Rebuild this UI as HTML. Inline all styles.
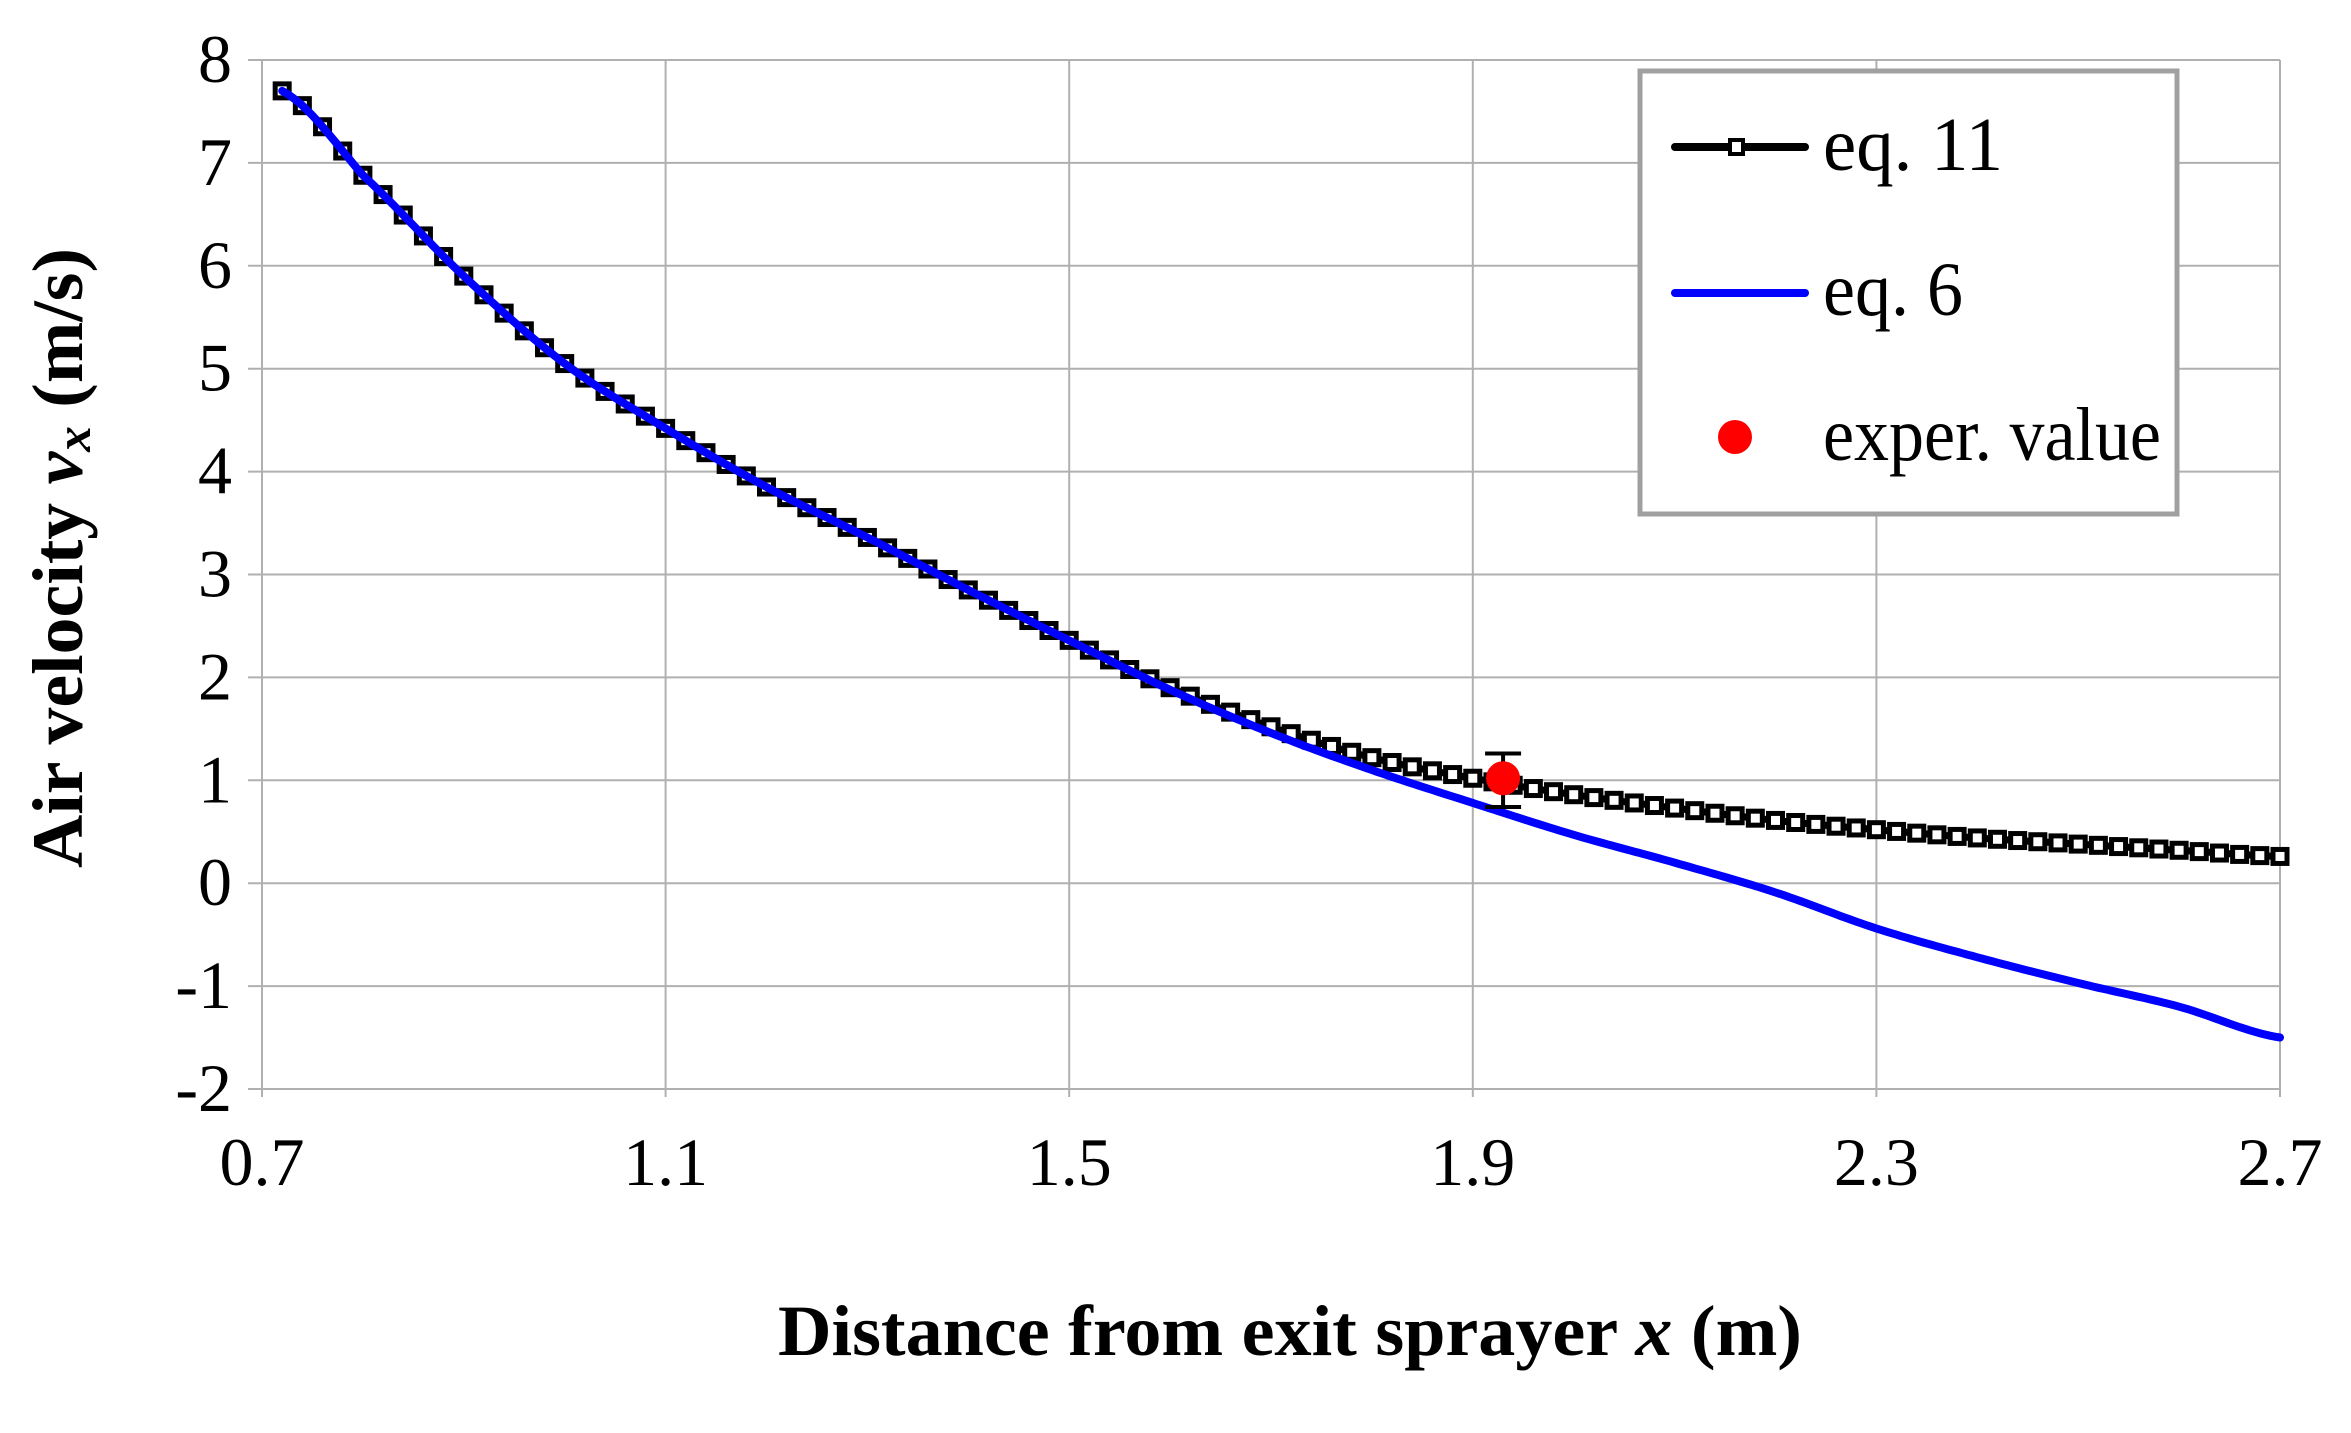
<!DOCTYPE html>
<html><head><meta charset="utf-8"><style>html,body{margin:0;padding:0;background:#fff}svg{display:block}</style></head>
<body>
<svg id="s" width="2351" height="1433" xmlns="http://www.w3.org/2000/svg" font-family="'Liberation Serif', serif">
<g id="grid" stroke="#b0b0b0" stroke-width="2"></g>
<g id="series"></g>
<g id="labels" font-size="68" fill="#000"></g>
<text x="1290" y="1355" font-size="72" font-weight="bold" text-anchor="middle" textLength="1024" lengthAdjust="spacingAndGlyphs">Distance from exit sprayer <tspan font-style="italic">x</tspan>  (m)</text>
<text transform="translate(82,558) rotate(-90)" font-size="72" font-weight="bold" text-anchor="middle" textLength="620" lengthAdjust="spacingAndGlyphs">Air velocity <tspan font-style="italic">v<tspan font-size="50" dy="8">x</tspan></tspan><tspan dy="-8"> (m/s)</tspan></text>
<rect x="1640" y="71" width="537" height="443" fill="#fff" stroke="#a0a0a0" stroke-width="5"/>
<line x1="1675" y1="147" x2="1805" y2="147" stroke="#000" stroke-width="8" stroke-linecap="round"/>
<rect x="1730" y="140" width="13" height="14" fill="#fff" stroke="#000" stroke-width="4"/>
<line x1="1675" y1="293" x2="1805" y2="293" stroke="#0000ff" stroke-width="8" stroke-linecap="round"/>
<circle cx="1735" cy="437" r="17" fill="#ff0000"/>
<g font-size="76" fill="#000">
<text x="1823" y="170" textLength="180" lengthAdjust="spacingAndGlyphs">eq. 11</text>
<text x="1823" y="315" textLength="140" lengthAdjust="spacingAndGlyphs">eq. 6</text>
<text x="1823" y="460" textLength="338" lengthAdjust="spacingAndGlyphs">exper. value</text>
</g>
</svg>
<script>
var X0=262,X1=2280,Y8=60,Ym2=1089;
function px(x){return X0+(x-0.7)/2.0*(X1-X0);}
function py(v){return Y8+(8-v)/10*(Ym2-Y8);}
var ns="http://www.w3.org/2000/svg";
function el(p,t,a){var e=document.createElementNS(ns,t);for(var k in a)e.setAttribute(k,a[k]);p.appendChild(e);return e;}
var g=document.getElementById('grid'),L=document.getElementById('labels');
for(var v=-2;v<=8;v++){el(g,'line',{x1:X0-14,x2:X1,y1:py(v),y2:py(v)});var t=el(L,'text',{x:X0-30,y:py(v)+22,'text-anchor':'end'});t.textContent=v;}
for(var i=0;i<=5;i++){var x=0.7+i*0.4;el(g,'line',{x1:px(x),x2:px(x),y1:Y8,y2:Ym2+8});var t=el(L,'text',{x:px(x),y:1185,'text-anchor':'middle'});t.textContent=x.toFixed(1);}
var A=[[0.72,7.7],[0.8,6.88],[0.9,5.9],[1.0,5.05],[1.1,4.42],[1.2,3.85],[1.3,3.36],[1.4,2.85],[1.5,2.36],[1.6,1.9],[1.7,1.52],[1.8,1.22],[1.9,1.02],[2.0,0.86],[2.1,0.73],[2.2,0.61],[2.3,0.52],[2.4,0.44],[2.5,0.38],[2.6,0.32],[2.7,0.26]];
var B=[[0.72,7.7],[0.8,6.88],[0.9,5.9],[1.0,5.05],[1.1,4.42],[1.2,3.85],[1.3,3.36],[1.4,2.85],[1.5,2.36],[1.6,1.88],[1.7,1.46],[1.8,1.1],[1.9,0.78],[2.0,0.47],[2.1,0.2],[2.2,-0.09],[2.3,-0.44],[2.4,-0.72],[2.5,-0.97],[2.6,-1.2],[2.7,-1.5]];
function interp(D,x){for(var i=0;i<D.length-1;i++){if(x<=D[i+1][0]){var f=(x-D[i][0])/(D[i+1][0]-D[i][0]);
var p0=D[Math.max(i-1,0)][1],p1=D[i][1],p2=D[i+1][1],p3=D[Math.min(i+2,D.length-1)][1];
return 0.5*((2*p1)+(-p0+p2)*f+(2*p0-5*p1+4*p2-p3)*f*f+(-p0+3*p1-3*p2+p3)*f*f*f);}}return D[D.length-1][1];}
var S=document.getElementById('series');
var pa='',pb='';
for(var x=0.72;x<=2.7001;x+=0.005){pa+=(pa?'L':'M')+px(x).toFixed(1)+','+py(interp(A,x)).toFixed(1);pb+=(pb?'L':'M')+px(x).toFixed(1)+','+py(interp(B,x)).toFixed(1);}
el(S,'path',{d:pa,fill:'none',stroke:'#000',"stroke-width":7});
for(var x=0.72;x<=2.7001;x+=0.02){el(S,'rect',{x:px(x)-7,y:py(interp(A,x))-7,width:14,height:14,fill:'#fff',stroke:'#000','stroke-width':5});}
el(S,'path',{d:pb,fill:'none',stroke:'#0000ff',"stroke-width":8,"stroke-linecap":"round"});
var ex=px(1.93),ey=py(1.02);
el(S,'line',{x1:ex,x2:ex,y1:py(1.26),y2:py(0.74),stroke:'#000','stroke-width':4});
el(S,'line',{x1:ex-18,x2:ex+18,y1:py(1.26),y2:py(1.26),stroke:'#000','stroke-width':4});
el(S,'line',{x1:ex-18,x2:ex+18,y1:py(0.74),y2:py(0.74),stroke:'#000','stroke-width':4});
el(S,'circle',{cx:ex,cy:ey,r:17,fill:'#ff0000'});
</script>
</body></html>
